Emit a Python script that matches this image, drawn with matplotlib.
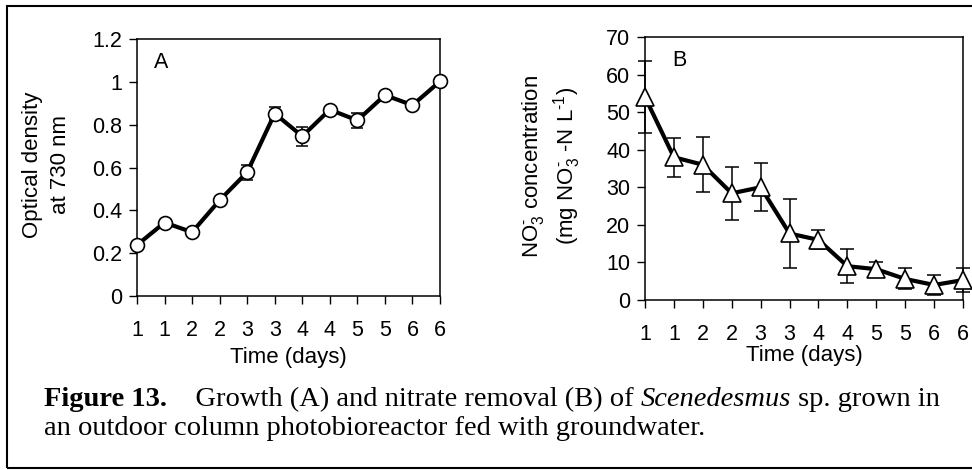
import numpy as np
import matplotlib
matplotlib.use("Agg")
import matplotlib.pyplot as plt
from matplotlib.patches import Rectangle
from matplotlib.ticker import FuncFormatter

plt.rcParams['font.family'] = 'Liberation Sans'
plt.rcParams['mathtext.fontset'] = 'custom'
plt.rcParams['mathtext.rm'] = 'Liberation Sans'
plt.rcParams['mathtext.it'] = 'Liberation Sans:italic'
plt.rcParams['mathtext.bf'] = 'Liberation Sans:bold'

# data
day_labels = ['1', '1', '2', '2', '3', '3', '4', '4', '5', '5', '6', '6']
od_mean = [0.238, 0.343, 0.298, 0.447, 0.578, 0.852, 0.746, 0.870, 0.820, 0.938, 0.891, 1.002]
od_err = [0.01, 0.01, 0.01, 0.01, 0.036, 0.03, 0.045, 0.01, 0.036, 0.01, 0.01, 0.01]
no3_mean = [54.0, 38.0, 36.0, 28.4, 30.0, 17.7, 16.0, 9.0, 8.2, 5.6, 4.0, 5.3]
no3_err = [9.5, 5.2, 7.3, 7.0, 6.4, 9.3, 2.5, 4.5, 2.0, 2.8, 2.6, 3.1]

W, H = 972, 470
TICK_FS = 15.5
LABEL_FS = 16
fig = plt.figure(figsize=(W / 100, H / 100), dpi=100)

def px(x0, y0, x1, y1):
    # pixel box (top-left origin) -> figure fraction rect
    return [x0 / W, 1 - y1 / H, (x1 - x0) / W, (y1 - y0) / H]

axA = fig.add_axes(px(137, 39, 440, 296))
axB = fig.add_axes(px(645, 37, 963, 300))

def style(ax):
    for s in ax.spines.values():
        s.set_linewidth(1.1)
    ax.tick_params(direction='out', length=5.5, width=1.0, labelsize=TICK_FS,
                   top=False, right=False)
    ax.tick_params(axis='x', pad=11.5)
    ax.tick_params(axis='y', pad=5)
    x = np.arange(len(day_labels))
    ax.set_xticks(x)
    ax.set_xticklabels(day_labels)
    ax.set_xlim(0, len(day_labels) - 1)
    ax.yaxis.set_major_formatter(FuncFormatter(lambda v, p: '{:g}'.format(round(v, 2))))

x = np.arange(len(day_labels))

# panel A
style(axA)
axA.errorbar(x, od_mean, yerr=od_err, fmt='none', ecolor='k', elinewidth=1.1,
             capsize=4, capthick=1.1, clip_on=False, zorder=2)
axA.plot(x, od_mean, '-o', color='k', lw=3, mfc='white', mec='k', ms=10,
         mew=1.2, clip_on=False, zorder=3)
axA.set_ylim(0, 1.2)
axA.set_yticks(np.arange(0, 1.21, 0.2))
axA.text(0.055, 0.91, 'A', transform=axA.transAxes, fontsize=TICK_FS, va='center')

# panel B
style(axB)
axB.errorbar(x, no3_mean, yerr=no3_err, fmt='none', ecolor='k', elinewidth=1.1,
             capsize=5, capthick=1.1, clip_on=False, zorder=2)
axB.plot(x, no3_mean, '-^', color='k', lw=3, mfc='white', mec='k', ms=13,
         mew=1.2, clip_on=False, zorder=3)
axB.set_ylim(0, 70)
axB.set_yticks(np.arange(0, 71, 10))
axB.text(0.085, 0.91, 'B', transform=axB.transAxes, fontsize=TICK_FS, va='center')

# axis labels
fig.text(288 / W, 1 - 358 / H, 'Time (days)', ha='center', va='center', fontsize=LABEL_FS)
fig.text(804 / W, 1 - 355 / H, 'Time (days)', ha='center', va='center', fontsize=LABEL_FS)
fig.text(33 / W, 1 - 165 / H, 'Optical density', rotation=90, ha='center', va='center',
         fontsize=LABEL_FS)
fig.text(60 / W, 1 - 165 / H, 'at 730 nm', rotation=90, ha='center', va='center',
         fontsize=LABEL_FS)
fig.text(533 / W, 1 - 166 / H, r'NO$_3^{\text{-}}$ concentration', rotation=90,
         ha='center', va='center', fontsize=LABEL_FS)
fig.text(567 / W, 1 - 166 / H, r'(mg NO$_3^{\text{-}}$ -N L$^{\text{-1}}$)', rotation=90,
         ha='center', va='center', fontsize=LABEL_FS)

# caption built from pieces so bold / italic can be mixed
renderer = fig.canvas.get_renderer()

def caption_line(pieces, x0, y0):
    xc = x0
    for txt, weight, style_ in pieces:
        t = fig.text(xc / W, 1 - y0 / H, txt, family='Liberation Serif', fontsize=20.5,
                     weight=weight, style=style_, ha='left', va='baseline')
        xc += t.get_window_extent(renderer).width

caption_line([('Figure 13.', 'bold', 'normal'),
              ('    Growth (A) and nitrate removal (B) of ', 'normal', 'normal'),
              ('Scenedesmus', 'normal', 'italic'),
              (' sp. grown in', 'normal', 'normal')], 44, 406)
caption_line([('an outdoor column photobioreactor fed with groundwater.', 'normal', 'normal')],
             44, 435)

# outer frame
fig.patches.append(Rectangle((7 / W, 1 - 468 / H), 1.0, 462 / H, transform=fig.transFigure,
                             fill=False, ec='k', lw=1.5))

fig.savefig('out.png', dpi=100)
